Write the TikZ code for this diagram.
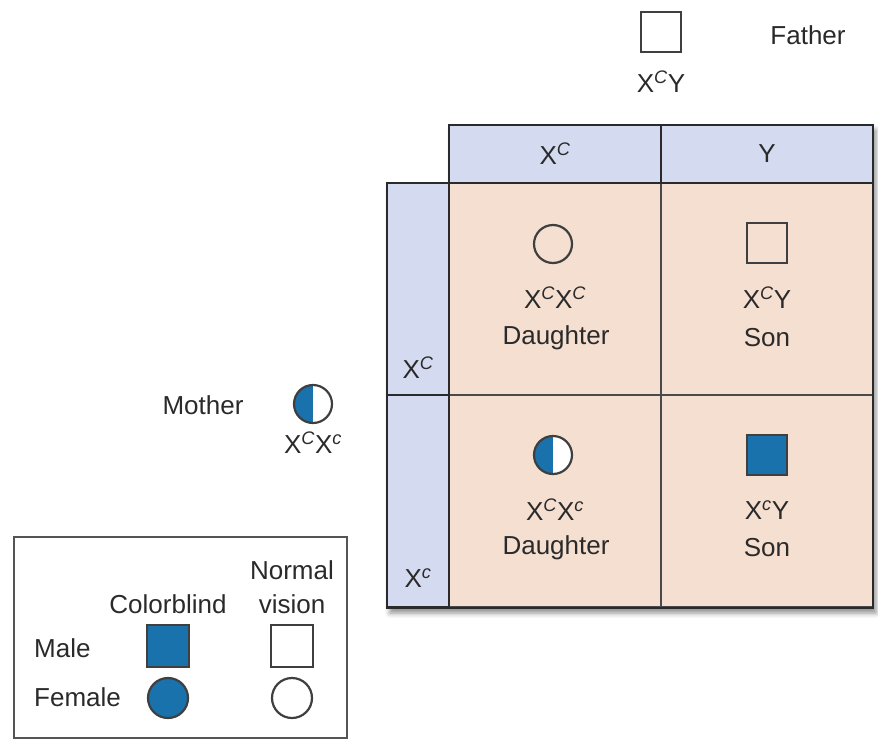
\documentclass[tikz,border=0pt]{standalone}
\usepackage{fontspec}
\setmainfont{Liberation Sans}
\usetikzlibrary{shadows.blur}
\definecolor{hdr}{HTML}{D4DAEF}
\definecolor{cellbg}{HTML}{F4DFD1}
\definecolor{cb}{HTML}{1A72AD}
\definecolor{ink}{HTML}{2A2A2A}
% genotype with an italic allele superscript
\newcommand\gX[1]{X\textsuperscript{\itshape #1}}
\begin{document}
\begin{tikzpicture}[x=1pt,y=-1pt,
  every node/.style={text=ink, font=\fontsize{26}{30}\selectfont},
  lbl/.style={inner sep=0pt},
  hdrcell/.style={rectangle, fill=hdr, draw=ink, line width=1.8pt, inner sep=0pt},
  mcell/.style={rectangle, fill=cellbg, draw=ink!85, line width=1.4pt, inner sep=0pt},
  male/.style={rectangle, minimum size=40pt, inner sep=0pt, draw=ink!90, line width=2.2pt, fill=white},
  female/.style={circle, minimum size=38pt, inner sep=0pt, draw=ink!90, line width=2.2pt, fill=white},
  open/.style={fill=none},
  affected/.style={fill=cb},
  carrier/.style={path picture={\fill[cb] (path picture bounding box.north west) rectangle (path picture bounding box.south);}},
]
\useasboundingbox (0,0) rectangle (878,744);

% drop shadow behind the Punnett square
\path[blur shadow={shadow xshift=3pt, shadow yshift=-5pt, shadow blur radius=5pt, shadow opacity=45}, fill=white]
  (449,125) -- (873,125) -- (873,608) -- (387,608) -- (387,183) -- (449,183) -- cycle;

% header row (father's gametes)
\node[hdrcell, minimum width=212pt, minimum height=58pt] (hC) at (555,154) {};
\node[hdrcell, minimum width=212pt, minimum height=58pt] (hY) at (767,154) {};
% header column (mother's gametes)
\node[hdrcell, minimum width=62pt, minimum height=212pt] (vC) at (418,289) {};
\node[hdrcell, minimum width=62pt, minimum height=212pt] (vc) at (418,501) {};
% offspring cells
\node[mcell, minimum size=212pt] (c11) at (555,289) {};
\node[mcell, minimum size=212pt] (c12) at (767,289) {};
\node[mcell, minimum size=212pt] (c21) at (555,501) {};
\node[mcell, minimum size=212pt] (c22) at (767,501) {};
% outer frame
\draw[ink, line width=2pt] (449,125) -- (873,125) -- (873,608) -- (387,608) -- (387,183) -- (449,183) -- cycle;
\draw[ink, line width=2pt] (449,125) -- (449,608);
\draw[ink, line width=2pt] (449,183) -- (873,183);

% gamete labels
\node[lbl] (tC) at (hC) {\gX{C}};
\node[lbl] (tY) at (hY) {Y};
\node[lbl] (sC) at (418,368) {\gX{C}};
\node[lbl] (sc) at (418,578) {\gX{c}};

% offspring
\node[female, open] (d1) at (553,244) {};
\node[lbl] (g11) at (555,298) {\gX{C}\gX{C}};
\node[lbl] (n11) at (556,338) {Daughter};
\node[male, open] (s1) at (767,243) {};
\node[lbl] (g12) at (767,298) {\gX{C}Y};
\node[lbl] (n12) at (767,338) {Son};
\node[female, carrier] (d2) at (553,455) {};
\node[lbl] (g21) at (555,510) {\gX{C}\gX{c}};
\node[lbl] (n21) at (556,548) {Daughter};
\node[male, affected] (s2) at (767,455) {};
\node[lbl] (g22) at (767,510) {\gX{c}Y};
\node[lbl] (n22) at (767,548) {Son};

% parents
\node[male] (fa) at (661,32) {};
\node[lbl] (fag) at (661,82) {\gX{C}Y};
\node[lbl] (fan) at (808,35) {Father};
\node[female, carrier] (mo) at (313,404) {};
\node[lbl] (mog) at (313,443) {\gX{C}\gX{c}};
\node[lbl] (mon) at (203,405) {Mother};

% key
\node[draw=ink!80, line width=1.6pt, minimum width=333pt, minimum height=201pt, inner sep=0pt] (key) at (180.5,637.5) {};
\node[lbl] (kn1) at (292,570) {Normal};
\node[lbl] (kn2) at (292,604) {vision};
\node[lbl] (kcb) at (168,604) {Colorblind};
\node[lbl, anchor=west] (kma) at (34,648) {Male};
\node[lbl, anchor=west] (kfe) at (34,697) {Female};
\node[male, affected, minimum size=42pt] (kms) at (168,646) {};
\node[male, minimum size=42pt] (kmn) at (292,646) {};
\node[female, affected, minimum size=40pt] (kfs) at (168,698) {};
\node[female, minimum size=40pt] (kfn) at (292,698) {};
\end{tikzpicture}
\end{document}
